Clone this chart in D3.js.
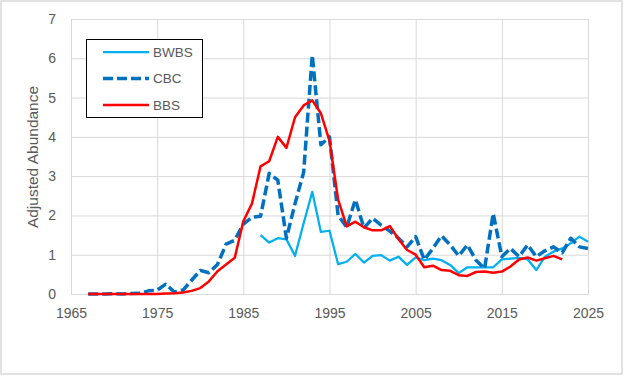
<!DOCTYPE html>
<html lang="en">
<head>
<meta charset="UTF-8">
<script src="https://cdn.jsdelivr.net/npm/d3@7"></script>
<style>
  body { margin: 0; background: #fff; }
  svg text { font-family: "Liberation Sans", Arial, sans-serif; fill: #595959; }
</style>
</head>
<body>
<div id="fig"></div>
<script>
const width = 624, height = 376;

// series values
const bbsYears = d3.range(1967, 2023);
const bbsValues = [0, 0, 0, 0, 0, 0, 0, 0, 0, 0.01, 0.02, 0.04, 0.08, 0.15, 0.32, 0.58, 0.75, 0.92,
  1.85, 2.3, 3.25, 3.38, 4.0, 3.72, 4.5, 4.8, 4.93, 4.6, 3.9, 2.4, 1.72, 1.84, 1.7, 1.62, 1.62, 1.73,
  1.4, 1.12, 1.0, 0.68, 0.72, 0.61, 0.59, 0.48, 0.46, 0.56, 0.57, 0.54, 0.57, 0.7, 0.88, 0.93, 0.85,
  0.91, 0.97, 0.88];

const cbcYears = d3.range(1967, 2026);
const cbcValues = [0, 0, 0, 0.01, 0, 0.01, 0.02, 0.08, 0.1, 0.25, 0.05, 0.1, 0.35, 0.6, 0.54, 0.75,
  1.27, 1.37, 1.78, 1.95, 1.98, 3.07, 2.9, 1.42, 2.3, 3.1, 6.08, 3.8, 4.0, 2.0, 1.7, 2.4, 1.68, 1.93,
  1.75, 1.6, 1.42, 1.2, 1.46, 0.87, 1.16, 1.48, 1.25, 0.97, 1.25, 0.86, 0.65, 2.05, 0.95, 1.16, 0.95,
  1.25, 0.95, 1.1, 1.2, 1.05, 1.42, 1.2, 1.16];

const bwbsYears = d3.range(1987, 2026);
const bwbsValues = [1.5, 1.31, 1.42, 1.39, 0.97, 1.8, 2.6, 1.58, 1.61, 0.76, 0.82, 1.02, 0.8, 0.97,
  0.99, 0.85, 0.95, 0.74, 0.93, 0.86, 0.9, 0.86, 0.74, 0.53, 0.68, 0.68, 0.68, 0.68, 0.88, 0.9, 0.92,
  0.88, 0.61, 0.95, 1.08, 1.16, 1.29, 1.46, 1.33];

const xTicks = [1965, 1975, 1985, 1995, 2005, 2015, 2025];
const yTicks = [0, 1, 2, 3, 4, 5, 6, 7];

const series = [
  {name: "BWBS", years: bwbsYears, values: bwbsValues, color: "#00B0F0", w: 2.25, dash: null},
  {name: "CBC", years: cbcYears, values: cbcValues, color: "#0070C0", w: 3.5, dash: "10,4"},
  {name: "BBS", years: bbsYears, values: bbsValues, color: "#FF0000", w: 2.5, dash: null}
];

const svg = d3.select("#fig").append("svg")
  .attr("width", width).attr("height", height);

svg.append("rect")
  .attr("x", 1).attr("y", 1).attr("width", 621).attr("height", 373)
  .attr("fill", "#fff").attr("stroke", "#D9D9D9").attr("stroke-width", 1.5);

const x = d3.scaleLinear().domain([1965, 2025]).range([71, 588]);
const y = d3.scaleLinear().domain([0, 7]).range([294, 19]);

// gridlines + labels
svg.append("g").attr("transform", "translate(0,294)")
  .call(d3.axisBottom(x).tickValues(xTicks).tickSize(-275).tickFormat(d3.format("d")).tickPadding(14))
  .call(g => g.select(".domain").attr("stroke", "#D9D9D9"))
  .call(g => g.selectAll(".tick line").attr("stroke", "#D9D9D9"))
  .call(g => g.selectAll(".tick text").attr("font-size", 14).attr("fill", "#595959")
    .attr("font-family", "Liberation Sans, Arial, sans-serif"));

svg.append("g").attr("transform", "translate(71,0)")
  .call(d3.axisLeft(y).tickValues(yTicks).tickSize(-517).tickFormat(d3.format("d")).tickPadding(15))
  .call(g => g.select(".domain").remove())
  .call(g => g.selectAll(".tick line").attr("stroke", "#D9D9D9"))
  .call(g => g.selectAll(".tick text").attr("font-size", 14).attr("fill", "#595959")
    .attr("font-family", "Liberation Sans, Arial, sans-serif"));

svg.append("text")
  .attr("transform", "translate(38,157) rotate(-90)")
  .attr("text-anchor", "middle")
  .attr("font-size", 15.5)
  .text("Adjusted Abundance");

const line = d3.line().x(d => x(d[0])).y(d => y(d[1]));

series.forEach(s => {
  svg.append("path")
    .datum(s.years.map((yr, i) => [yr, s.values[i]]))
    .attr("d", line)
    .attr("fill", "none")
    .attr("stroke", s.color)
    .attr("stroke-width", s.w)
    .attr("stroke-linejoin", "round")
    .attr("stroke-dasharray", s.dash);
});

// legend
const legend = svg.append("g");
legend.append("rect")
  .attr("x", 86.5).attr("y", 39.5).attr("width", 116).attr("height", 78)
  .attr("fill", "#fff").attr("stroke", "#000").attr("stroke-width", 1);

series.forEach((s, i) => {
  const ly = 52 + i * 26.5;
  legend.append("line")
    .attr("x1", 103).attr("x2", 149).attr("y1", ly).attr("y2", ly)
    .attr("stroke", s.color).attr("stroke-width", s.w)
    .attr("stroke-dasharray", s.dash);
  legend.append("text")
    .attr("x", 153).attr("y", ly).attr("dy", "0.35em")
    .attr("font-size", 13.5)
    .text(s.name);
});
</script>
</body>
</html>
